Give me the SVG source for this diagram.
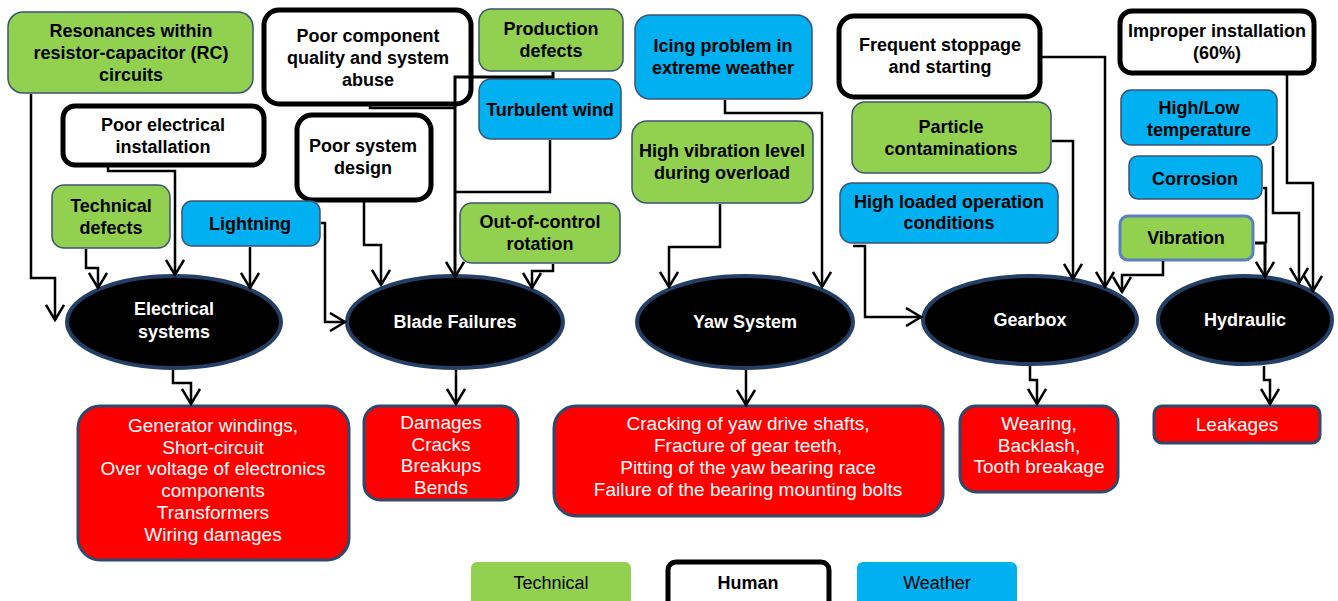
<svg xmlns="http://www.w3.org/2000/svg" width="1338" height="601" viewBox="0 0 1338 601">
<style>
text{font-family:"Liberation Sans",Arial,sans-serif;text-anchor:middle}
.lb{font-size:18px;font-weight:bold;fill:#000}
.el{font-size:18px;font-weight:bold;fill:#fff}
.rt{font-size:19px;fill:#fff}
.lg{font-size:18px;fill:#000}
.g{fill:#92d050;stroke:#3b5373;stroke-width:1.5}
.b{fill:#00b0f0;stroke:#3b5373;stroke-width:1.5}
.h{fill:#fff;stroke:#000;stroke-width:5}
.e{fill:#000;stroke:#243f66;stroke-width:4}
.r{fill:#ff0000;stroke:#2c4a6e;stroke-width:3}
.c path{fill:none;stroke:#000;stroke-width:2.5}
.c path.a{marker-end:url(#arr)}
</style>
<defs>
<marker id="arr" viewBox="0 0 20 20" refX="18" refY="10" markerWidth="20" markerHeight="20" markerUnits="userSpaceOnUse" orient="auto">
<path d="M3,1 L18,10 L3,19" fill="none" stroke="#000" stroke-width="2.5"/>
</marker>
</defs>
<rect width="1338" height="601" fill="#fff"/>

<g id="n-resonances"><rect class="g" x="8" y="12" width="245" height="81" rx="15"/>
<text class="lb" x="131" y="37">Resonances within</text><text class="lb" x="131" y="59">resistor-capacitor (RC)</text><text class="lb" x="131" y="81">circuits</text></g>

<g id="n-poorcomp"><rect class="h" x="264" y="10" width="207" height="94" rx="15"/>
<text class="lb" x="368" y="42">Poor component</text><text class="lb" x="368" y="64">quality and system</text><text class="lb" x="368" y="86">abuse</text></g>

<g id="n-production"><rect class="g" x="479" y="9" width="144" height="62" rx="12"/>
<text class="lb" x="551" y="35">Production</text><text class="lb" x="551" y="57">defects</text></g>

<g id="n-turbulent"><rect class="b" x="479" y="79" width="142" height="60" rx="12"/>
<text class="lb" x="550" y="116">Turbulent wind</text></g>

<g id="n-poorelec"><rect class="h" x="63" y="106" width="201" height="59" rx="12"/>
<text class="lb" x="163" y="131">Poor electrical</text><text class="lb" x="163" y="153">installation</text></g>

<g id="n-poorsys"><rect class="h" x="297" y="115" width="134" height="85" rx="15"/>
<text class="lb" x="363" y="152">Poor system</text><text class="lb" x="363" y="174">design</text></g>

<g id="n-techdef"><rect class="g" x="52" y="185" width="118" height="63" rx="12"/>
<text class="lb" x="111" y="212">Technical</text><text class="lb" x="111" y="234">defects</text></g>

<g id="n-lightning"><rect class="b" x="182" y="201" width="138" height="45" rx="10"/>
<text class="lb" x="250" y="230">Lightning</text></g>

<g id="n-outofcontrol"><rect class="g" x="460" y="203" width="160" height="60" rx="12"/>
<text class="lb" x="540" y="228">Out-of-control</text><text class="lb" x="540" y="250">rotation</text></g>

<g id="n-icing"><rect class="b" x="635" y="15" width="177" height="84" rx="15"/>
<text class="lb" x="723" y="52">Icing problem in</text><text class="lb" x="723" y="74">extreme weather</text></g>

<g id="n-highvib"><rect class="g" x="632" y="121" width="181" height="82" rx="15"/>
<text class="lb" x="722" y="157">High vibration level</text><text class="lb" x="722" y="179">during overload</text></g>

<g id="n-frequent"><rect class="h" x="839" y="16" width="201" height="81" rx="15"/>
<text class="lb" x="940" y="51">Frequent stoppage</text><text class="lb" x="940" y="73">and starting</text></g>

<g id="n-particle"><rect class="g" x="852" y="102" width="199" height="71" rx="13"/>
<text class="lb" x="951" y="133">Particle</text><text class="lb" x="951" y="155">contaminations</text></g>

<g id="n-highloaded"><rect class="b" x="840" y="183" width="218" height="60" rx="12"/>
<text class="lb" x="949" y="208">High loaded operation</text><text class="lb" x="949" y="229">conditions</text></g>

<g id="n-improper"><rect class="h" x="1120" y="11" width="194" height="62" rx="12"/>
<text class="lb" x="1217" y="37">Improper installation</text><text class="lb" x="1217" y="59">(60%)</text></g>

<g id="n-highlow"><rect class="b" x="1121" y="90" width="156" height="55" rx="10"/>
<text class="lb" x="1199" y="114">High/Low</text><text class="lb" x="1199" y="136">temperature</text></g>

<g id="n-corrosion"><rect class="b" x="1129" y="156" width="133" height="43" rx="9"/>
<text class="lb" x="1195" y="185">Corrosion</text></g>

<g id="n-vibration"><rect x="1120" y="216" width="133" height="44" rx="8" fill="#92d050" stroke="#5a80c0" stroke-width="3"/>
<text class="lb" x="1186" y="244">Vibration</text></g>

<g id="e-electrical"><ellipse class="e" cx="174" cy="322" rx="107" ry="46"/>
<text class="el" x="174" y="315">Electrical</text><text class="el" x="174" y="338">systems</text></g>

<g id="e-blade"><ellipse class="e" cx="455" cy="322" rx="108" ry="46"/>
<text class="el" x="455" y="328">Blade Failures</text></g>

<g id="e-yaw"><ellipse class="e" cx="745" cy="322" rx="108" ry="46"/>
<text class="el" x="745" y="328">Yaw System</text></g>

<g id="e-gearbox"><ellipse class="e" cx="1030" cy="320" rx="107" ry="44"/>
<text class="el" x="1030" y="326">Gearbox</text></g>

<g id="e-hydraulic"><ellipse class="e" cx="1245" cy="320" rx="87" ry="44"/>
<text class="el" x="1245" y="326">Hydraulic</text></g>

<g id="o-electrical"><rect class="r" x="78" y="406" width="271" height="154" rx="22"/>
<text class="rt" x="213" y="432">Generator windings,</text><text class="rt" x="213" y="454">Short-circuit</text><text class="rt" x="213" y="475">Over voltage of electronics</text><text class="rt" x="213" y="497">components</text><text class="rt" x="213" y="519">Transformers</text><text class="rt" x="213" y="541">Wiring damages</text></g>

<g id="o-blade"><rect class="r" x="364" y="406" width="154" height="94" rx="16"/>
<text class="rt" x="441" y="429">Damages</text><text class="rt" x="441" y="451">Cracks</text><text class="rt" x="441" y="472">Breakups</text><text class="rt" x="441" y="494">Bends</text></g>

<g id="o-yaw"><rect class="r" x="554" y="406" width="389" height="110" rx="22"/>
<text class="rt" x="748" y="430">Cracking of yaw drive shafts,</text><text class="rt" x="748" y="452">Fracture of gear teeth,</text><text class="rt" x="748" y="474">Pitting of the yaw bearing race</text><text class="rt" x="748" y="496">Failure of the bearing mounting bolts</text></g>

<g id="o-gearbox"><rect class="r" x="960" y="406" width="158" height="86" rx="16"/>
<text class="rt" x="1039" y="430">Wearing,</text><text class="rt" x="1039" y="452">Backlash,</text><text class="rt" x="1039" y="473">Tooth breakage</text></g>

<g id="o-hydraulic"><rect class="r" x="1154" y="406" width="166" height="37" rx="8"/>
<text class="rt" x="1237" y="431">Leakages</text></g>

<g class="c" id="connectors">
<path class="a" d="M31,94 V278 H55 V320"/>
<path class="a" d="M108,167 V171 H175 V275"/>
<path class="a" d="M86,249 V268 H98 V288"/>
<path class="a" d="M250,247 V288"/>
<path class="a" d="M321,223 H325 V322 H345"/>
<path class="a" d="M364,202 V245 H381 V285"/>
<path d="M370,106 V108 H455"/>
<path class="a" d="M553,72 V77 H455 V277" style="stroke-width:3"/>
<path d="M550,140 V192 H455"/>
<path class="a" d="M553,264 V271 H532 V288"/>
<path class="a" d="M720,204 V247 H669 V287"/>
<path class="a" d="M725,100 V113 H822 V287"/>
<path class="a" d="M853,246 H865 V317 H921"/>
<path class="a" d="M1052,141 H1073 V279"/>
<path class="a" d="M1042,57 H1105 V287"/>
<path class="a" d="M1163,261 V275 H1122 V292"/>
<path class="a" d="M1255,243 H1265 V277" style="stroke-width:3"/>
<path d="M1263,188 H1266 V243"/>
<path class="a" d="M1273,146 V213 H1299 V283"/>
<path class="a" d="M1287,75 V183 H1313 V291"/>
<path class="a" d="M173,370 V383 H191 V404"/>
<path class="a" d="M456,370 V404"/>
<path class="a" d="M746,370 V405"/>
<path class="a" d="M1030,366 V380 H1037 V404"/>
<path class="a" d="M1264,366 V380 H1270 V404"/>
</g>

<g id="legend">
<rect x="471" y="562" width="160" height="50" rx="6" fill="#92d050"/>
<text class="lg" x="551" y="589">Technical</text>
<rect x="668" y="562" width="161" height="50" rx="8" fill="#fff" stroke="#000" stroke-width="5"/>
<text class="lg" x="748" y="589" font-weight="bold">Human</text>
<rect x="857" y="562" width="160" height="50" rx="6" fill="#00b0f0"/>
<text class="lg" x="937" y="589">Weather</text>
</g>
</svg>
